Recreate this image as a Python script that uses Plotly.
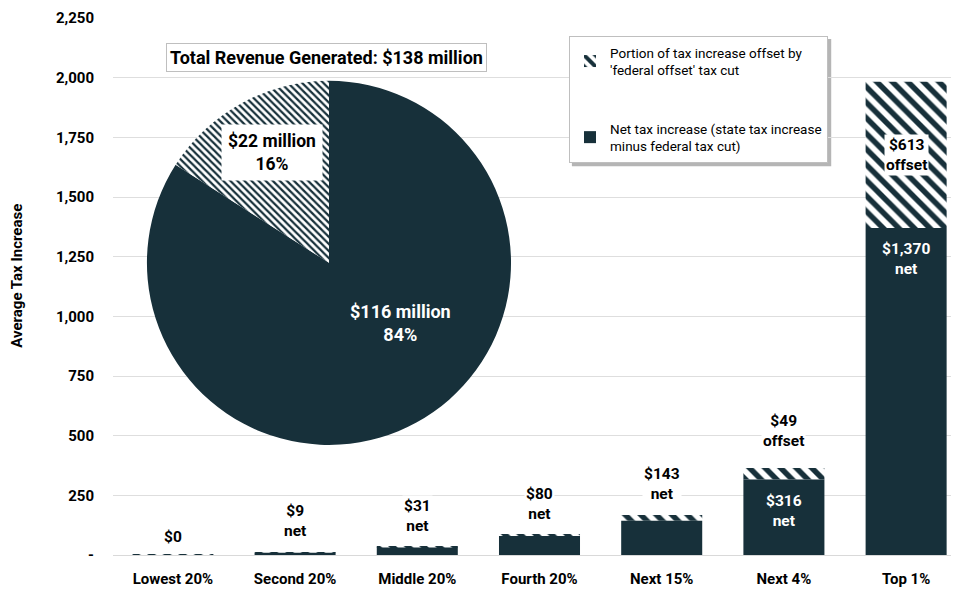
import plotly.graph_objects as go

categories = ["Lowest 20%", "Second 20%", "Middle 20%", "Fourth 20%", "Next 15%", "Next 4%", "Top 1%"]
net_values = [0, 9, 31, 80, 143, 316, 1370]
offset_values = [1, 2, 4, 4, 25, 49, 613]

pie_labels = ["Net tax increase", "Offset by federal tax cut"]
pie_values = [116, 22]
pie_pcts = [84, 16]

ytick_vals = [0, 250, 500, 750, 1000, 1250, 1500, 1750, 2000, 2250]
ytick_text = ["-", "250", "500", "750", "1,000", "1,250", "1,500", "1,750", "2,000", "2,250"]

DARK = "#17303a"
FONT = "Roboto, Liberation Sans, sans-serif"


def bfont(size, color="black"):
    return dict(size=size, color=color, family=FONT, weight="bold")


fig = go.Figure()

fig.add_trace(go.Bar(
    x=categories, y=offset_values, base=net_values,
    name="Portion of tax increase offset by<br>'federal offset' tax cut",
    legendgroup="offset",
    marker=dict(color="white", line=dict(width=0),
                pattern=dict(shape="\\", fgcolor=DARK, bgcolor="white", fgopacity=1,
                             size=11, solidity=0.5)),
    hoverinfo="skip",
))
fig.add_trace(go.Bar(
    x=categories, y=net_values,
    name="Net tax increase (state tax increase<br>minus federal tax cut)",
    legendgroup="net",
    marker=dict(color=DARK, line=dict(width=0)),
    hoverinfo="skip",
))

fig.add_trace(go.Pie(
    labels=pie_labels, values=pie_values, sort=False, direction="clockwise", rotation=0,
    marker=dict(colors=[DARK, "white"], line=dict(width=0),
                pattern=dict(shape=["", "\\"], fgcolor=DARK, bgcolor="white", fgopacity=1,
                             size=5, solidity=0.45)),
    textinfo="none", showlegend=False, hoverinfo="skip",
    domain=dict(x=[0.040, 0.473], y=[0.205, 0.883]),
))


def money(v):
    return "${:,}".format(v)


for i, c in enumerate(categories):
    n = net_values[i]
    o = offset_values[i]
    top = n + o
    if c == "Lowest 20%":
        fig.add_annotation(x=c, y=top, text=money(n), showarrow=False, yshift=18,
                           font=bfont(15.5), bgcolor="white")
    elif c == "Next 4%":
        fig.add_annotation(x=c, y=n * 0.58, text=money(n) + "<br>net", showarrow=False,
                           font=bfont(15.5, "white"))
        fig.add_annotation(x=c, y=top, text=money(o) + "<br>offset", showarrow=False, yshift=37,
                           font=bfont(15.5), bgcolor="white")
    elif c == "Top 1%":
        fig.add_annotation(x=c, y=n - 130, text=money(n) + "<br>net", showarrow=False,
                           font=bfont(15.5, "white"))
        fig.add_annotation(x=c, y=n + o / 2, text=money(o) + "<br>offset", showarrow=False,
                           font=bfont(15.5), bgcolor="white")
    else:
        fig.add_annotation(x=c, y=top, text=money(n) + "<br>net", showarrow=False, yshift=31,
                           font=bfont(15.5), bgcolor="white")

# pie annotations
fig.add_annotation(xref="paper", yref="paper", x=0.253, y=0.927, xanchor="center", yanchor="middle",
                   text="Total Revenue Generated: ${} million".format(sum(pie_values)),
                   showarrow=False, font=bfont(18),
                   bgcolor="white", bordercolor="#bfbfbf", borderwidth=1, borderpad=3)
fig.add_annotation(xref="paper", yref="paper", x=0.189, y=0.750, xanchor="center", yanchor="middle",
                   text="${} million<br>{}%".format(pie_values[1], pie_pcts[1]),
                   showarrow=False, font=bfont(17.5),
                   bgcolor="white", borderpad=6)
fig.add_annotation(xref="paper", yref="paper", x=0.341, y=0.432, xanchor="center", yanchor="middle",
                   text="${} million<br>{}%".format(pie_values[0], pie_pcts[0]),
                   showarrow=False, font=bfont(18, "white"))

# y axis title
fig.add_annotation(xref="paper", yref="paper", x=-0.114, y=0.52, xanchor="center", yanchor="middle",
                   text="Average Tax Increase", textangle=-90, showarrow=False, font=bfont(15))

# legend shadow
fig.add_shape(type="rect", xref="paper", yref="paper", x0=0.545, x1=0.853, y0=0.724, y1=0.961,
              fillcolor="#b5b5b5", line=dict(width=0), layer="below")

# the page puts the figure 8px in from the top-left corner, so the figure is 8px smaller
fig.update_layout(
    width=951, height=582,
    margin=dict(l=105, r=4, t=10, b=35),
    plot_bgcolor="white", paper_bgcolor="white",
    barmode="overlay", bargap=0.337,
    font=dict(family=FONT, color="black"),
    xaxis=dict(range=[-0.49, 6.40], showgrid=False, showline=True, linecolor="#d9d9d9", ticks="",
               automargin=False, tickfont=bfont(15), ticklabelstandoff=10),
    yaxis=dict(range=[0, 2250], tickvals=ytick_vals, ticktext=ytick_text, automargin=False,
               showgrid=True, gridcolor="#dedede", zeroline=False,
               tickfont=bfont(15), ticklabelstandoff=18),
    legend=dict(x=0.5416, y=0.9665, xanchor="left", yanchor="top", bgcolor="white",
                bordercolor="#bfbfbf", borderwidth=1, font=dict(size=13.5, family=FONT, color="black"),
                traceorder="grouped", itemsizing="constant", tracegroupgap=38,
                itemwidth=30),
    showlegend=True,
)

fig.write_html("out.html")
